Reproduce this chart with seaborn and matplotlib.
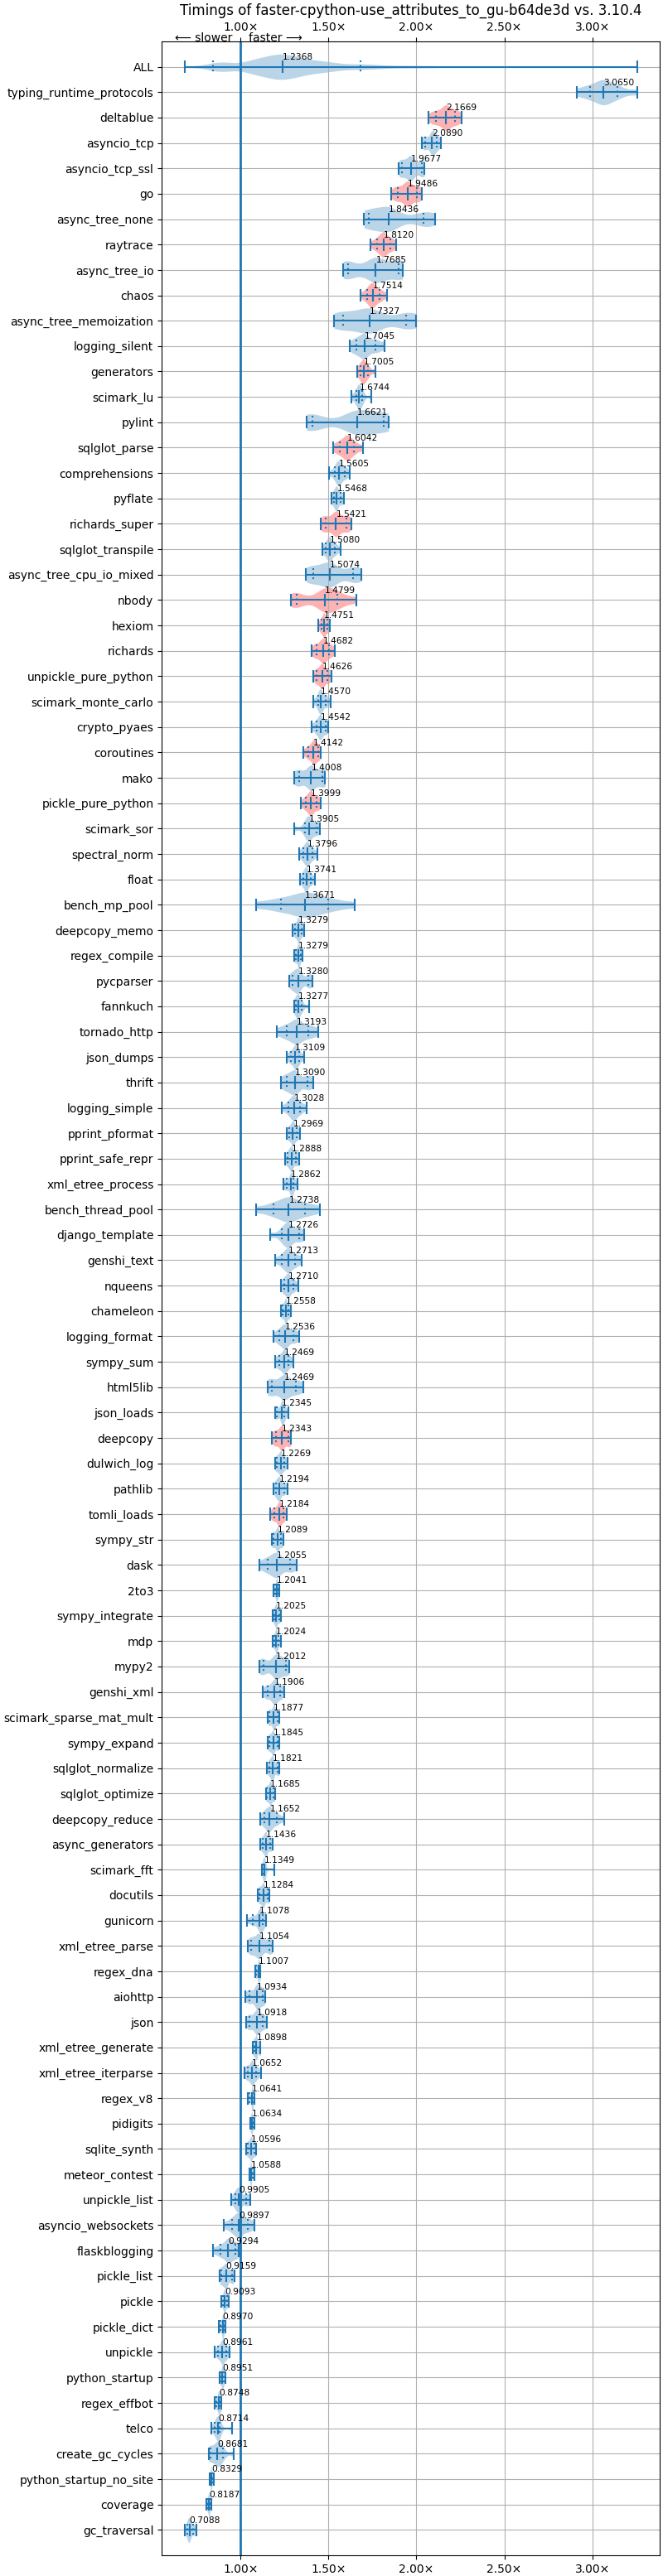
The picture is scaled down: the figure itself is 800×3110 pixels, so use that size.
import numpy as np
import pandas as pd
import matplotlib
matplotlib.use("Agg")
import matplotlib.pyplot as plt
from matplotlib.ticker import FuncFormatter
import seaborn as sns

title = "Timings of faster-cpython-use_attributes_to_gu-b64de3d vs. 3.10.4"

names = [
    "ALL", "typing_runtime_protocols", "deltablue", "asyncio_tcp", "asyncio_tcp_ssl", "go",
    "async_tree_none", "raytrace", "async_tree_io", "chaos", "async_tree_memoization",
    "logging_silent", "generators", "scimark_lu", "pylint", "sqlglot_parse", "comprehensions",
    "pyflate", "richards_super", "sqlglot_transpile", "async_tree_cpu_io_mixed", "nbody",
    "hexiom", "richards", "unpickle_pure_python", "scimark_monte_carlo", "crypto_pyaes",
    "coroutines", "mako", "pickle_pure_python", "scimark_sor", "spectral_norm", "float",
    "bench_mp_pool", "deepcopy_memo", "regex_compile", "pycparser", "fannkuch", "tornado_http",
    "json_dumps", "thrift", "logging_simple", "pprint_pformat", "pprint_safe_repr",
    "xml_etree_process", "bench_thread_pool", "django_template", "genshi_text", "nqueens",
    "chameleon", "logging_format", "sympy_sum", "html5lib", "json_loads", "deepcopy",
    "dulwich_log", "pathlib", "tomli_loads", "sympy_str", "dask", "2to3", "sympy_integrate",
    "mdp", "mypy2", "genshi_xml", "scimark_sparse_mat_mult", "sympy_expand",
    "sqlglot_normalize", "sqlglot_optimize", "deepcopy_reduce", "async_generators",
    "scimark_fft", "docutils", "gunicorn", "xml_etree_parse", "regex_dna", "aiohttp", "json",
    "xml_etree_generate", "xml_etree_iterparse", "regex_v8", "pidigits", "sqlite_synth",
    "meteor_contest", "unpickle_list", "asyncio_websockets", "flaskblogging", "pickle_list",
    "pickle", "pickle_dict", "unpickle", "python_startup", "regex_effbot", "telco",
    "create_gc_cycles", "python_startup_no_site", "coverage", "gc_traversal",
]

mins = [
    0.680, 2.913, 2.067, 2.029, 1.899, 1.858, 1.702, 1.739, 1.584, 1.680, 1.532, 1.619,
    1.663, 1.628, 1.375, 1.526, 1.502, 1.517, 1.454, 1.465, 1.371, 1.288, 1.443, 1.404,
    1.414, 1.414, 1.403, 1.356, 1.305, 1.342, 1.303, 1.332, 1.338, 1.089, 1.297, 1.303,
    1.275, 1.303, 1.205, 1.264, 1.227, 1.236, 1.260, 1.251, 1.244, 1.087, 1.166, 1.194,
    1.229, 1.227, 1.185, 1.198, 1.153, 1.194, 1.179, 1.194, 1.187, 1.170, 1.175, 1.105,
    1.187, 1.181, 1.181, 1.105, 1.127, 1.155, 1.155, 1.151, 1.142, 1.109, 1.113, 1.122,
    1.098, 1.037, 1.042, 1.083, 1.028, 1.031, 1.070, 1.022, 1.042, 1.054, 1.031, 1.048,
    0.945, 0.906, 0.843, 0.880, 0.891, 0.876, 0.854, 0.878, 0.850, 0.834, 0.817, 0.822,
    0.803, 0.683,
]

q10s = [
    0.841, 2.986, 2.110, 2.050, 1.918, 1.894, 1.729, 1.776, 1.611, 1.720, 1.585, 1.656,
    1.680, 1.656, 1.408, 1.563, 1.537, 1.530, 1.482, 1.486, 1.412, 1.319, 1.458, 1.430,
    1.434, 1.440, 1.430, 1.384, 1.332, 1.371, 1.366, 1.356, 1.356, 1.229, 1.310, 1.312,
    1.294, 1.312, 1.260, 1.286, 1.260, 1.273, 1.275, 1.268, 1.260, 1.187, 1.236, 1.236,
    1.246, 1.238, 1.218, 1.218, 1.175, 1.205, 1.199, 1.205, 1.201, 1.190, 1.186, 1.153,
    1.194, 1.190, 1.190, 1.129, 1.153, 1.164, 1.164, 1.164, 1.150, 1.135, 1.126, 1.127,
    1.107, 1.070, 1.061, 1.089, 1.052, 1.052, 1.076, 1.039, 1.048, 1.057, 1.042, 1.055,
    0.969, 0.950, 0.886, 0.891, 0.900, 0.884, 0.873, 0.884, 0.862, 0.853, 0.829, 0.829,
    0.810, 0.697,
]

means = [
    1.2368, 3.0650, 2.1669, 2.0890, 1.9677, 1.9486, 1.8436, 1.8120, 1.7685, 1.7514, 1.7327,
    1.7045, 1.7005, 1.6744, 1.6621, 1.6042, 1.5605, 1.5468, 1.5421, 1.5080, 1.5074, 1.4799,
    1.4751, 1.4682, 1.4626, 1.4570, 1.4542, 1.4142, 1.4008, 1.3999, 1.3905, 1.3796, 1.3741,
    1.3671, 1.3279, 1.3279, 1.3280, 1.3277, 1.3193, 1.3109, 1.3090, 1.3028, 1.2969, 1.2888,
    1.2862, 1.2738, 1.2726, 1.2713, 1.2710, 1.2558, 1.2536, 1.2469, 1.2469, 1.2345, 1.2343,
    1.2269, 1.2194, 1.2184, 1.2089, 1.2055, 1.2041, 1.2025, 1.2024, 1.2012, 1.1906, 1.1877,
    1.1845, 1.1821, 1.1685, 1.1652, 1.1436, 1.1349, 1.1284, 1.1078, 1.1054, 1.1007, 1.0934,
    1.0918, 1.0898, 1.0652, 1.0641, 1.0634, 1.0596, 1.0588, 0.9905, 0.9897, 0.9294, 0.9159,
    0.9093, 0.8970, 0.8961, 0.8951, 0.8748, 0.8714, 0.8681, 0.8329, 0.8187, 0.7088,
]

q90s = [
    1.683, 3.144, 2.219, 2.115, 2.029, 2.002, 2.040, 1.851, 1.901, 1.792, 1.940, 1.768,
    1.726, 1.693, 1.813, 1.645, 1.593, 1.571, 1.600, 1.537, 1.641, 1.552, 1.495, 1.504,
    1.495, 1.486, 1.482, 1.441, 1.467, 1.434, 1.430, 1.408, 1.399, 1.499, 1.345, 1.340,
    1.386, 1.349, 1.386, 1.332, 1.379, 1.338, 1.319, 1.316, 1.301, 1.366, 1.331, 1.310,
    1.301, 1.273, 1.301, 1.273, 1.312, 1.249, 1.273, 1.249, 1.246, 1.242, 1.231, 1.279,
    1.212, 1.218, 1.214, 1.257, 1.223, 1.209, 1.209, 1.209, 1.187, 1.205, 1.168, 1.137,
    1.153, 1.126, 1.163, 1.109, 1.126, 1.126, 1.109, 1.089, 1.070, 1.070, 1.079, 1.070,
    1.033, 1.039, 0.969, 0.950, 0.922, 0.904, 0.917, 0.904, 0.885, 0.880, 0.897, 0.841,
    0.825, 0.731,
]

maxs = [
    3.255, 3.255, 2.255, 2.139, 2.046, 2.031, 2.106, 1.883, 1.922, 1.835, 1.997, 1.820,
    1.765, 1.744, 1.840, 1.694, 1.622, 1.589, 1.628, 1.567, 1.687, 1.659, 1.508, 1.536,
    1.517, 1.510, 1.499, 1.456, 1.480, 1.456, 1.451, 1.438, 1.423, 1.650, 1.360, 1.353,
    1.410, 1.388, 1.441, 1.360, 1.414, 1.377, 1.336, 1.332, 1.323, 1.451, 1.360, 1.345,
    1.329, 1.284, 1.334, 1.301, 1.356, 1.271, 1.284, 1.268, 1.266, 1.260, 1.242, 1.318,
    1.220, 1.227, 1.227, 1.275, 1.247, 1.220, 1.220, 1.220, 1.196, 1.247, 1.181, 1.190,
    1.163, 1.144, 1.181, 1.113, 1.139, 1.150, 1.113, 1.114, 1.076, 1.076, 1.089, 1.076,
    1.057, 1.076, 0.987, 0.963, 0.930, 0.913, 0.935, 0.911, 0.891, 0.950, 0.962, 0.849,
    0.834, 0.748,
]

# benchmarks whose violins are drawn in red
flagged = [
    "deltablue", "go", "raytrace", "chaos", "generators", "sqlglot_parse", "richards_super",
    "nbody", "hexiom", "richards", "unpickle_pure_python", "coroutines",
    "pickle_pure_python", "deepcopy", "tomli_loads",
]

# how many times each read stat (min, 10%, mean, 90%, max) is counted in a violin
stat_weight = [1, 2, 4, 2, 1]

# long-form table: the read stats act as the samples of each violin,
# ALL pools the samples of every benchmark
rows = []
for name, lo, q1, mu, q9, hi in zip(names, mins, q10s, means, q90s, maxs):
    if name == "ALL":
        continue
    tint = "red" if name in flagged else "blue"
    for v, w in zip((lo, q1, mu, q9, hi), stat_weight):
        rows.extend([(name, v, tint)] * w)
rows = [("ALL", v, "blue") for _, v, _ in rows] + rows
df = pd.DataFrame(rows, columns=["benchmark", "ratio", "tint"])

fig = plt.figure(figsize=(8, 31.1), dpi=100)
ax = fig.add_axes([0.244, 0.00804, 0.751, 0.9759])

sns.violinplot(data=df, x="ratio", y="benchmark", hue="tint", order=names,
               hue_order=["blue", "red"], palette={"blue": "C0", "red": "red"},
               orient="h", inner=None, cut=0, bw_adjust=0.7, density_norm="width",
               width=1.0, linewidth=0, saturation=1, alpha=0.3, dodge=False,
               legend=False, ax=ax)

pos = np.arange(len(names))
half = 0.25
ax.hlines(pos, mins, maxs, color="C0", lw=1.5)
ax.vlines(mins, pos - half, pos + half, color="C0", lw=1.5)
ax.vlines(maxs, pos - half, pos + half, color="C0", lw=1.5)
ax.vlines(means, pos - half, pos + half, color="C0", lw=1.5)
ax.vlines(q10s, pos - half, pos + half, color="C0", lw=1.5, linestyles=":")
ax.vlines(q90s, pos - half, pos + half, color="C0", lw=1.5, linestyles=":")

for p, m in zip(pos, means):
    ax.text(m, p - 0.28, f"{m:.4f}", fontsize=7.7, va="baseline", ha="left")

ax.axvline(1.0, color="C0", lw=2)

ax.set_ylim(len(names), -1)
ax.grid(True)
ax.set_xlabel("")
ax.set_ylabel("")
ax.xaxis.set_major_formatter(FuncFormatter(lambda x, _: f"{x:.2f}\u00d7"))
ax.tick_params(axis="x", top=True, labeltop=True)
ax.set_title(title, fontsize=12)

ax.annotate("\u27f5 slower", xy=(1.0, 1.0), xycoords=("data", "axes fraction"),
            xytext=(-7, 0), textcoords="offset points", ha="right", va="baseline")
ax.annotate("faster \u27f6", xy=(1.0, 1.0), xycoords=("data", "axes fraction"),
            xytext=(7, 0), textcoords="offset points", ha="left", va="baseline")

fig.savefig("out.png", dpi=100)
